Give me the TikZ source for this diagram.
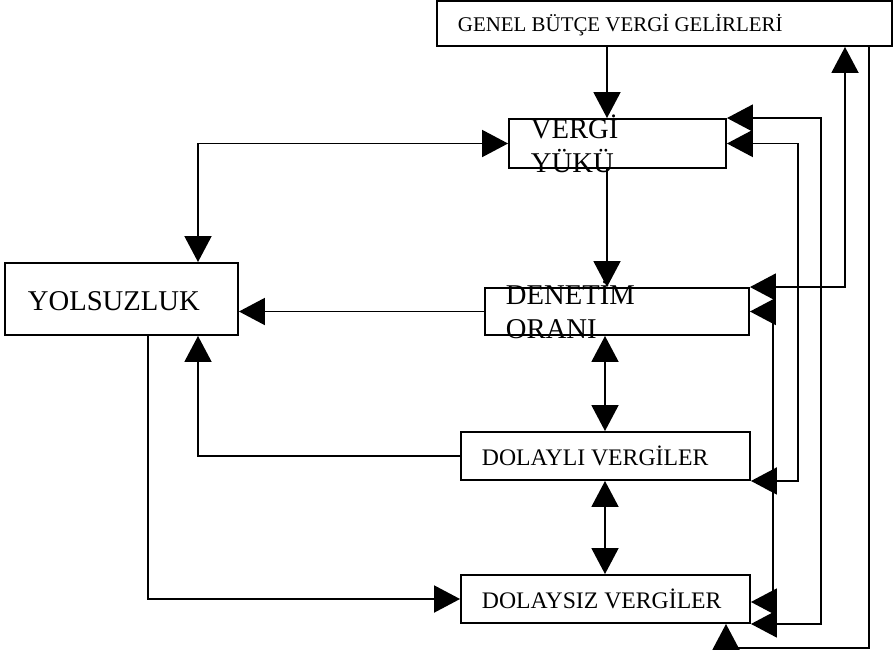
\documentclass[tikz,border=0pt]{standalone}
\usepackage{fontspec}
\setmainfont{Liberation Serif}
\usepackage{tikz}
\usetikzlibrary{arrows.meta}
\newcommand{\bigtxt}{\fontsize{16.3}{19.3}\selectfont}
\newcommand{\midtxt}{\fontsize{13.5}{16}\selectfont}
\newcommand{\smalltxt}{\fontsize{11.9}{14}\selectfont}

\begin{document}
\begin{tikzpicture}[x=0.02cm,y=-0.02cm,line width=1.1pt,
  box/.style={draw,inner sep=0pt},
  txt/.style={anchor=base west,inner sep=0pt,align=left},
  tip/.style={-{Triangle[length=0.52cm,width=0.54cm]}},
  tips/.style={{Triangle[length=0.52cm,width=0.54cm]}-{Triangle[length=0.52cm,width=0.54cm]}}]
  \useasboundingbox (0,0) rectangle (896,653);
  % boxes
  \node[box,minimum width=9.1cm,minimum height=0.9cm] (genel) at (664.5,23.5) {};
  \node[box,minimum width=4.34cm,minimum height=0.98cm] (vergi) at (617.5,143.5) {};
  \node[box,minimum width=5.28cm,minimum height=0.94cm] (denetim) at (617,311.5) {};
  \node[box,minimum width=5.78cm,minimum height=0.96cm] (dolayli) at (605.5,456) {};
  \node[box,minimum width=5.78cm,minimum height=0.96cm] (dolaysiz) at (605.5,599) {};
  \node[box,minimum width=4.66cm,minimum height=1.44cm] (yolsuz) at (121.5,299) {};
  % texts (base = last line)
  \node[txt,font=\smalltxt] (genelT) at (457,31) {GENEL BÜTÇE VERGİ GELİRLERİ};
  \node[txt,font=\bigtxt] (vergiT) at (530,172) {VERGİ\\YÜKÜ};
  \node[txt,font=\bigtxt] (denetimT) at (505,338) {DENETİM\\ORANI};
  \node[txt,font=\midtxt] (dolayliT) at (481,465) {DOLAYLI VERGİLER};
  \node[txt,font=\midtxt] (dolaysizT) at (481,608) {DOLAYSIZ VERGİLER};
  \node[txt,font=\bigtxt] (yolsuzT) at (27,310) {YOLSUZLUK};
  % center column
  \draw[tip] (607,0 |- genel.south) -- (607,0 |- vergi.north);
  \draw[tip] (607,0 |- vergi.south) -- (607,0 |- denetim.north);
  \draw[tips] (605,0 |- denetim.south) -- (605,0 |- dolayli.north);
  \draw[tips] (605,0 |- dolayli.south) -- (605,0 |- dolaysiz.north);
  % left side
  \draw[tips] (vergi.west) -| (198,0 |- yolsuz.north);
  \draw[tip] (denetim.west) -- (yolsuz.east |- denetim.west);
  \draw[tip] (dolayli.west) -| (198,0 |- yolsuz.south);
  \draw[tip] (148,0 |- yolsuz.south) |- (dolaysiz.west);
  % right side
  \draw[tips] (denetim.north east) -| (845,0 |- genel.south);
  \draw[tips] (vergi.north east) -| (821,400) |- (dolaysiz.south east);
  \draw[tips] (vergi.east) -| (798,300) |- (dolayli.south east);
  \draw[tips] (denetim.east) -| (773,450) |- (dolaysiz.east |- 0,602);
  \draw[tip] (869,0 |- genel.south) -- (869,648) -| (726,0 |- dolaysiz.south);
\end{tikzpicture}
\end{document}
